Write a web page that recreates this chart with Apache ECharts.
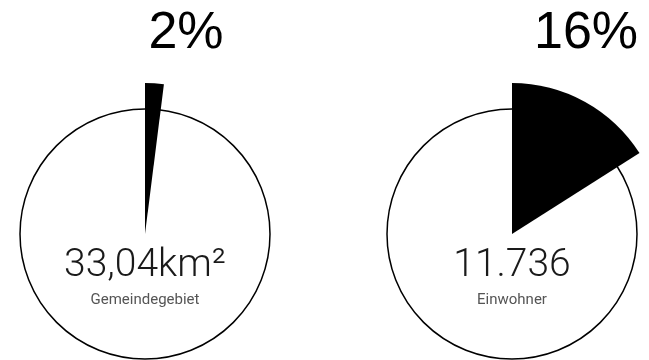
<!DOCTYPE html>
<html>
<head>
<meta charset="utf-8">
<script src="https://cdn.jsdelivr.net/npm/echarts@6/dist/echarts.min.js"></script>
<style>
  html, body { margin: 0; padding: 0; background: #fff; }
  #chart { width: 649px; height: 360px; }
</style>
</head>
<body>
<div id="chart"></div>
<script>
// Share of the district (percent) for each key figure
const shares = [2, 16];
// Headline figures printed inside each circle
const figures = ['33,04km²', '11.736'];
// Captions under the figures
const captions = ['Gemeindegebiet', 'Einwohner'];

const centers = [[145, 234], [512, 234]];
const labelPos = [[186, 34], [586, 34]];
const FONT = '"Helvetica Neue", Helvetica, "Liberation Sans", Arial, sans-serif';
const LIGHT = 'Roboto, "Helvetica Neue", "Liberation Sans", sans-serif';

const series = [];
const graphics = [];

shares.forEach((share, i) => {
  // full outline circle (the whole = 100%)
  series.push({
    type: 'pie',
    silent: true,
    center: centers[i],
    radius: [0, 125],
    startAngle: 90,
    label: { show: false },
    labelLine: { show: false },
    z: 1,
    data: [{ value: 100, itemStyle: { color: '#fff', borderColor: '#000', borderWidth: 1.5 } }]
  });
  // highlighted share, drawn as a wider wedge on top
  series.push({
    type: 'pie',
    silent: true,
    center: centers[i],
    radius: [0, 151],
    startAngle: 90,
    clockwise: true,
    label: { show: false },
    labelLine: { show: false },
    z: 2,
    data: [
      { value: share, itemStyle: { color: '#000' } },
      { value: 100 - share, itemStyle: { color: 'rgba(0,0,0,0)' } }
    ]
  });

  graphics.push({
    type: 'text', x: labelPos[i][0], y: labelPos[i][1], z: 10,
    style: { text: share + '%', fill: '#000', font: '400 52px ' + FONT, align: 'center', verticalAlign: 'middle' }
  });
  graphics.push({
    type: 'text', x: centers[i][0], y: 266, z: 10,
    style: { text: figures[i], fill: '#1a1a1a', font: '300 39px ' + LIGHT, align: 'center', verticalAlign: 'middle' }
  });
  graphics.push({
    type: 'text', x: centers[i][0], y: 300, z: 10,
    style: { text: captions[i], fill: '#555', font: '400 15px ' + LIGHT, align: 'center', verticalAlign: 'middle' }
  });
});

const chart = echarts.init(document.getElementById('chart'), null, { renderer: 'canvas' });
chart.setOption({
  animation: false,
  backgroundColor: '#fff',
  series: series,
  graphic: graphics
});
</script>
</body>
</html>
